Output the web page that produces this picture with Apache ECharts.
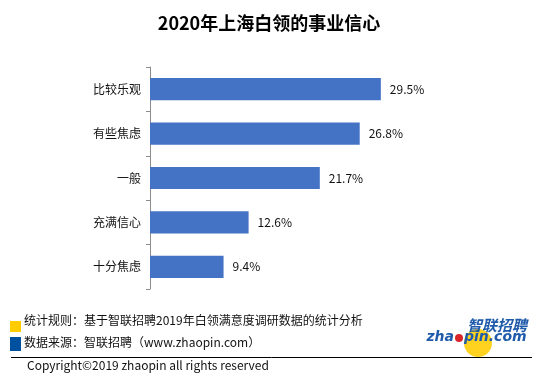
<!DOCTYPE html>
<html>
<head>
<meta charset="utf-8">
<script src="https://cdn.jsdelivr.net/npm/echarts@6/dist/echarts.min.js"></script>
<style>html,body{margin:0;padding:0;background:#fff}#c{width:538px;height:384px}</style>
</head>
<body>
<div id="c"></div>
<script>
const categories = ['比较乐观', '有些焦虑', '一般', '充满信心', '十分焦虑'];
const values = [29.5, 26.8, 21.7, 12.6, 9.4];
const titleText = '2020年上海白领的事业信心';
const noteRule = '统计规则：基于智联招聘2019年白领满意度调研数据的统计分析';
const noteSource = '数据来源：智联招聘（www.zhaopin.com）';
const copyright = 'Copyright©2019 zhaopin all rights reserved';

const FONT = '"Noto Sans CJK SC", "Noto Sans", sans-serif';
const chart = echarts.init(document.getElementById('c'), null, {renderer: 'canvas'});
chart.setOption({
  animation: false,
  backgroundColor: '#ffffff',
  title: {
    text: titleText, left: 'center', top: 9,
    textStyle: {fontSize: 18, fontWeight: 'bold', color: '#000', fontFamily: FONT}
  },
  grid: {left: 150, right: 75, top: 67, bottom: 95, containLabel: false},
  xAxis: {
    type: 'value', min: 0, max: 40, show: false
  },
  yAxis: {
    type: 'category', data: categories, inverse: true,
    axisLine: {show: true, lineStyle: {color: '#8c8c8c', width: 1}},
    axisTick: {show: true, length: 4, lineStyle: {color: '#8c8c8c'}},
    axisLabel: {fontSize: 12, color: '#111', margin: 9, fontFamily: FONT},
    splitLine: {show: false}
  },
  series: [{
    type: 'bar', data: values, barWidth: '50%',
    itemStyle: {color: '#4472C4'},
    label: {show: true, position: 'right', distance: 9, formatter: '{c}%',
      fontSize: 12, color: '#111', fontFamily: FONT}
  }],
  graphic: [
    {type: 'rect', z: 10, shape: {x: 10, y: 321, width: 11, height: 11}, style: {fill: '#FFCC00'}},
    {type: 'rect', z: 10, shape: {x: 10, y: 337, width: 11, height: 14}, style: {fill: '#0050A0'}},
    {type: 'text', z: 10, x: 24, y: 320, style: {text: noteRule, fontSize: 12, fill: '#111', fontFamily: FONT, verticalAlign: 'middle'}},
    {type: 'text', z: 10, x: 24, y: 342, style: {text: noteSource, fontSize: 12, fill: '#111', fontFamily: FONT, verticalAlign: 'middle'}},
    {type: 'line', z: 10, shape: {x1: 11, y1: 357.5, x2: 532, y2: 357.5}, style: {stroke: '#000', lineWidth: 1}},
    {type: 'text', z: 10, x: 27, y: 365, style: {text: copyright, fontSize: 12, fill: '#111', fontFamily: FONT, verticalAlign: 'middle'}},
    {type: 'circle', z: 10, zlevel: 0, shape: {cx: 478, cy: 343, r: 14}, style: {fill: '#FFD21F'}},
    {type: 'text', z: 20, x: 497, y: 325, style: {text: '智联招聘', fontSize: 15, fontWeight: 'bold', fontStyle: 'italic', fill: '#1F5BAA', fontFamily: FONT, align: 'center', verticalAlign: 'middle'}},
    {type: 'text', z: 20, x: 454, y: 337, style: {text: 'zha', fontSize: 14, fontWeight: 'bold', fontStyle: 'italic', fill: '#1F5BAA', fontFamily: '"DejaVu Sans", sans-serif', align: 'right', verticalAlign: 'middle'}},
    {type: 'text', z: 20, x: 464, y: 337, style: {text: 'pin.com', fontSize: 14, fontWeight: 'bold', fontStyle: 'italic', fill: '#1F5BAA', fontFamily: '"DejaVu Sans", sans-serif', align: 'left', verticalAlign: 'middle'}},
    {type: 'circle', z: 20, shape: {cx: 459, cy: 338, r: 4}, style: {fill: '#D8262B'}}
  ]
});
</script>
</body>
</html>
